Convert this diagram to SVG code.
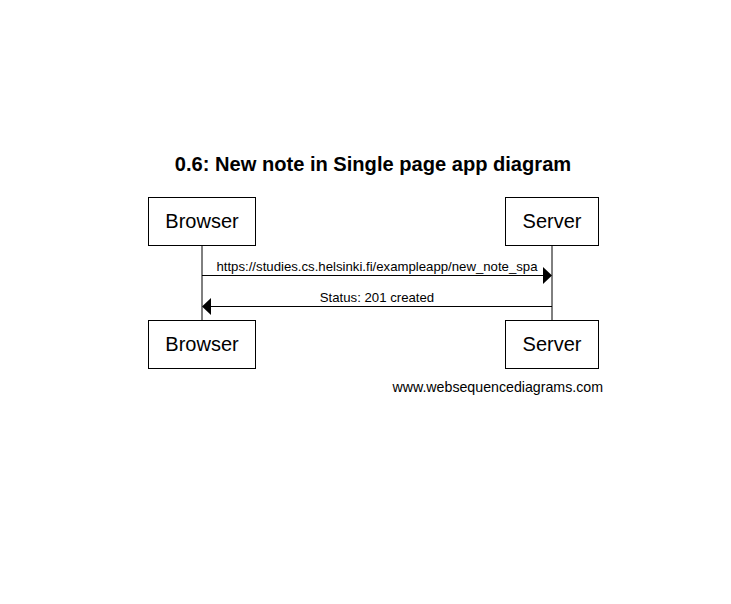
<svg xmlns="http://www.w3.org/2000/svg" width="731" height="604" viewBox="0 0 731 604">
<style>
.box{fill:#fff;stroke:#000;stroke-width:1}
.lbl{font-family:"Liberation Sans",Arial,sans-serif;font-size:20px;text-anchor:middle;fill:#000}
.msg{font-family:"Liberation Sans",Arial,sans-serif;font-size:13.2px;text-anchor:middle;fill:#000}
.ln{stroke:#000;stroke-width:1;fill:none}
</style>
<rect width="731" height="604" fill="#fff"/>
<text x="373" y="171" font-family="Liberation Sans,Arial,sans-serif" font-size="20.1" font-weight="bold" text-anchor="middle">0.6: New note in Single page app diagram</text>
<g id="connectors">
<line class="ln" x1="202" y1="245" x2="202" y2="320"/>
<line class="ln" x1="552" y1="245" x2="552" y2="320"/>
<line class="ln" x1="202" y1="275.5" x2="544" y2="275.5"/>
<polygon points="543,267 552,275.5 543,284"/>
<text class="msg" x="377" y="271">https://studies.cs.helsinki.fi/exampleapp/new_note_spa</text>
<line class="ln" x1="210" y1="306.5" x2="552" y2="306.5"/>
<polygon points="211,298 202,306.5 211,315"/>
<text class="msg" x="377" y="302">Status: 201 created</text>
</g>
<g id="browser-top"><rect class="box" x="148.5" y="197.5" width="107" height="48"/><text class="lbl" x="202" y="228">Browser</text></g>
<g id="server-top"><rect class="box" x="505.5" y="197.5" width="93" height="48"/><text class="lbl" x="552" y="228">Server</text></g>
<g id="browser-bottom"><rect class="box" x="148.5" y="320.5" width="107" height="48"/><text class="lbl" x="202" y="351">Browser</text></g>
<g id="server-bottom"><rect class="box" x="505.5" y="320.5" width="93" height="48"/><text class="lbl" x="552" y="351">Server</text></g>
<text x="603" y="392" font-family="Liberation Sans,Arial,sans-serif" font-size="14.2" text-anchor="end">www.websequencediagrams.com</text>
</svg>
